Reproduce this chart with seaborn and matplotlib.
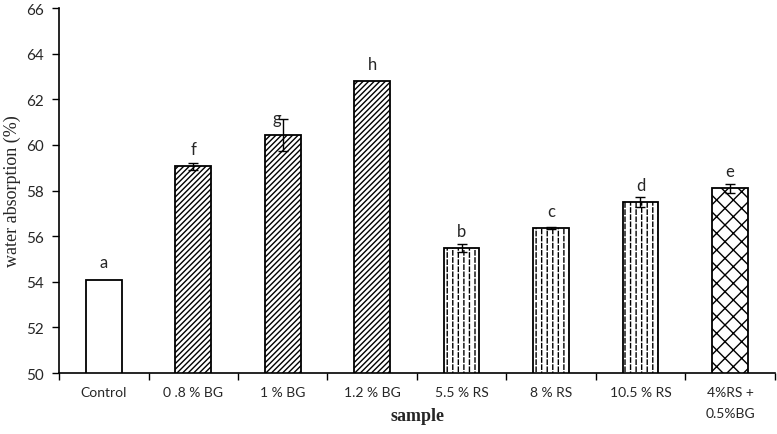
import matplotlib
matplotlib.use("Agg")
import matplotlib.pyplot as plt
import matplotlib.hatch as mhatch
from matplotlib.path import Path
import seaborn as sns
import pandas as pd
import numpy as np

categories = ["Control", "0 .8 % BG", "1 % BG", "1.2 % BG", "5.5 % RS", "8 % RS", "10.5 % RS", "4%RS +\n0.5%BG"]
values = [54.1, 59.07, 60.44, 62.8, 55.5, 56.35, 57.5, 58.1]
errors = [0.0, 0.15, 0.72, 0.0, 0.17, 0.05, 0.22, 0.2]
letters = ["a", "f", "g", "h", "b", "c", "d", "e"]
hatches = ["", "//////", "//////", "//////", "|||", "|||", "|||", "xx"]


# dashed vertical hatch (replaces the solid '|' hatch)
class DashedVerticalHatch(mhatch.HatchPatternBase):
    n_dash = 14

    def __init__(self, hatch, density):
        self.num_lines = int((hatch.count('|') + hatch.count('+')) * density)
        self.num_vertices = self.num_lines * self.n_dash * 2

    def set_vertices_and_codes(self, vertices, codes):
        steps, stepsize = np.linspace(0.0, 1.0, self.num_lines, False, retstep=True)
        steps += stepsize / 2.
        d = 1.0 / self.n_dash
        k = 0
        for i, s in enumerate(steps):
            off = 0.0 if i % 2 == 0 else 0.3 * d
            for j in range(self.n_dash):
                y0 = (j * d + off) % 1.0
                y1 = min(y0 + 0.6 * d, 1.0)
                vertices[k] = (s, y0)
                vertices[k + 1] = (s, y1)
                codes[k] = Path.MOVETO
                codes[k + 1] = Path.LINETO
                k += 2


mhatch._hatch_types = [DashedVerticalHatch if t is mhatch.VerticalHatch else t
                       for t in mhatch._hatch_types]

sns.set_theme(style="white")
plt.rcParams['hatch.linewidth'] = 1.0
plt.rcParams['hatch.color'] = 'black'

fig = plt.figure(figsize=(7.77, 4.35), dpi=100)
ax = fig.add_axes([0.076, 0.140, 0.921, 0.839])

df = pd.DataFrame({"sample": categories, "value": values})
sns.barplot(data=df, x="sample", y="value", color="white", width=0.4,
            edgecolor="black", linewidth=1.3, ax=ax, errorbar=None)
for p, h in zip(ax.patches, hatches):
    p.set_hatch(h)
    p.set_facecolor("white")
    p.set_edgecolor("black")

x = np.arange(len(categories))
mask = np.array(errors) > 0
ax.errorbar(x[mask], np.array(values)[mask], yerr=np.array(errors)[mask],
            fmt="none", ecolor="black", elinewidth=1, capsize=3.5, capthick=1)

for xi, v, l in zip(x, values, letters):
    ax.text(xi - (0.07 if l == "g" else 0), v + 0.75, l, ha="center", va="center",
            fontsize=12, family="Lato")

ax.set_xlabel("")
ax.set_ylabel("")
ax.set_ylim(50, 66)
ax.set_xlim(-0.5, len(categories) - 0.5)
ax.set_yticks(np.arange(50, 67, 2))
ax.set_yticklabels([str(t) for t in range(50, 67, 2)], family="Lato", fontsize=11)
ax.set_xticks(x)
ax.set_xticklabels(categories, family="Lato", fontsize=10, linespacing=1.9)
ax.set_xticks(np.arange(-0.5, len(categories) + 0.5, 1), minor=True)
ax.tick_params(axis="x", which="major", length=0, pad=9)
ax.tick_params(axis="x", which="minor", length=5, width=1, direction="out", color="black", bottom=True)
ax.tick_params(axis="y", length=5, width=1, direction="out", color="black", left=True, pad=6)

for s in ["top", "right"]:
    ax.spines[s].set_visible(False)
for s in ["left", "bottom"]:
    ax.spines[s].set_color("black")
    ax.spines[s].set_linewidth(1.2)

fig.text(12 / 777, 0.5 * (0.140 + 0.979), "water absorption (%)", family="Liberation Serif",
         fontsize=13, rotation=90, ha="center", va="center")
fig.text(417 / 777, 1 - 417 / 435, "sample", family="Liberation Serif", fontsize=13,
         fontweight="bold", ha="center", va="center")

fig.savefig("out.png", dpi=100)
